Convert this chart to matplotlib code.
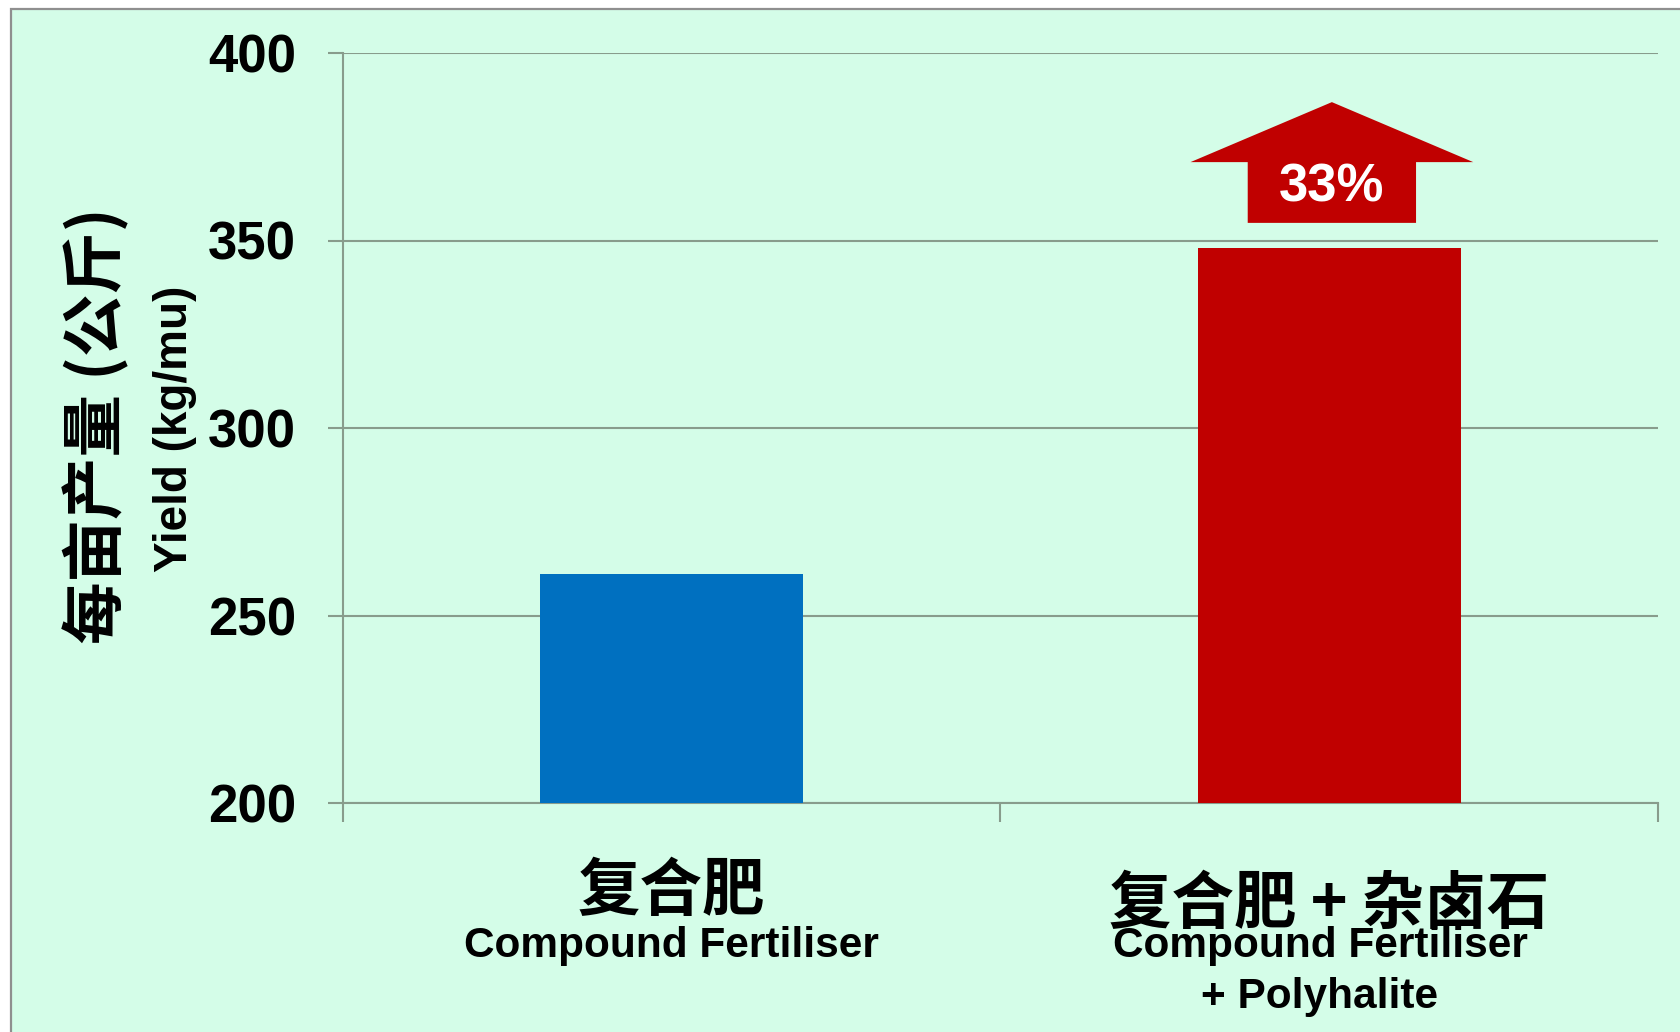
import numpy as np
import matplotlib.pyplot as plt
from matplotlib.patches import FancyArrow, Rectangle

# 数据
cats_cn = ['复合肥', '复合肥 + 杂卤石']
cats_en = [['Compound Fertiliser'], ['Compound Fertiliser', '+ Polyhalite']]
yields = [261, 348]
bar_colors = ['#0070C0', '#C00000']
yticks = [200, 250, 300, 350, 400]

bg = '#D4FDE8'
grid_c = '#889C8C'
en_font = ['Liberation Sans', 'DejaVu Sans']
cn_font = ['Noto Sans CJK SC', 'Liberation Sans']

fig = plt.figure(figsize=(16.81, 10.32), dpi=100)
fig.patch.set_facecolor('white')
# 外框 + 背景
fig.patches.append(Rectangle((11/1681, -0.5), 2, 1.5 - 9/1032, transform=fig.transFigure,
                             facecolor=bg, edgecolor='#8F8F8F', linewidth=1.6, zorder=-10))

ax = fig.add_axes([343/1681, 1-803/1032, 1315/1681, 750/1032])
ax.set_facecolor('none')
x = np.arange(len(yields))
ax.bar(x, yields, width=0.4, color=bar_colors, zorder=3)

ax.set_xlim(-0.5, 1.5)
ax.set_ylim(200, 400)
ax.set_yticks(yticks)
ax.set_yticklabels([str(v) for v in yticks], fontsize=38, fontweight='bold', family=en_font)
ax.set_xticks([-0.5, 0.5, 1.5])
ax.set_xticklabels([])
ax.tick_params(axis='y', length=11, width=1.5, color=grid_c, pad=23)
ax.tick_params(axis='x', length=14, width=1.5, color=grid_c)
ax.yaxis.grid(True, color=grid_c, linewidth=1.5, zorder=1)
for s in ['top', 'right']:
    ax.spines[s].set_visible(False)
ax.spines['left'].set_color(grid_c)
ax.spines['left'].set_linewidth(1.5)
ax.spines['bottom'].set_color(grid_c)
ax.spines['bottom'].set_linewidth(1.5)

# x 轴标签
tr = ax.get_xaxis_transform()
cn_y = [-0.118, -0.135]
en_y = [-0.1910, -0.2590]
for i in range(len(yields)):
    ax.text(x[i], cn_y[i], cats_cn[i], transform=tr, ha='center', va='center',
            fontsize=45, fontweight='bold', family=cn_font)
    for j, line in enumerate(cats_en[i]):
        ax.text(x[i] - 0.014 * i, en_y[j], line, transform=tr, ha='center', va='center',
                fontsize=30.5, fontweight='bold', family=en_font)

# y 轴标签
fig.text(96/1681, 1-426/1032, '每亩产量 (公斤)', rotation=90, ha='center', va='center',
         fontsize=45, fontweight='bold', family=cn_font)
fig.text(175/1681, 1-429/1032, 'Yield (kg/mu)', rotation=90, ha='center', va='center',
         fontsize=33, fontweight='bold', family=en_font)

# 增产箭头
pct = (yields[1] / yields[0] - 1) * 100
base = yields[1] + 6.7
ax.add_patch(FancyArrow(x[1] + 0.004, base, 0, 32.2, width=0.256, head_width=0.43, head_length=16,
                        length_includes_head=True, color='#C00000', linewidth=0, zorder=4))
ax.text(x[1] + 0.004, base + 9.3, '%d%%' % round(pct), ha='center', va='center', color='white',
        fontsize=38, fontweight='bold', family=en_font, zorder=5)

fig.savefig('out.png', dpi=100)
